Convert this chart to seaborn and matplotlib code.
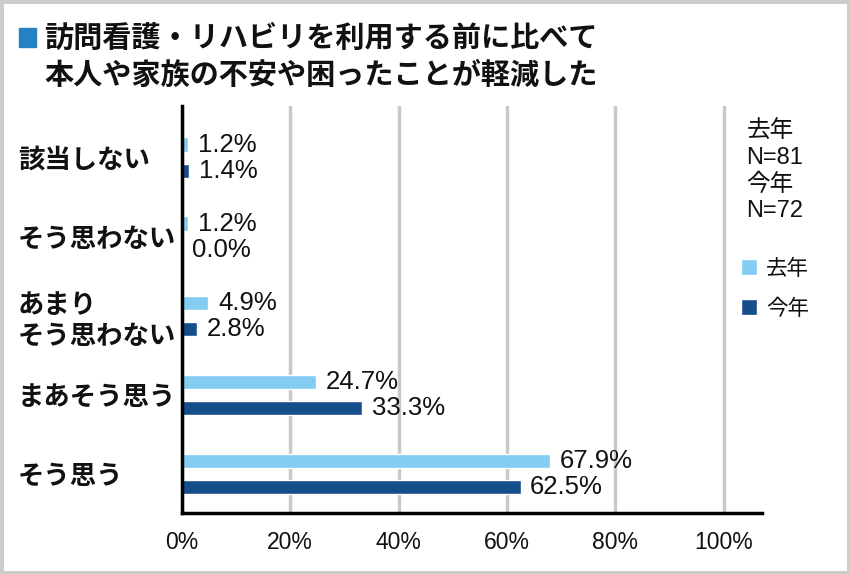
import pandas as pd
import seaborn as sns
import matplotlib.pyplot as plt

categories = ["該当しない", "そう思わない", "あまり\nそう思わない", "まあそう思う", "そう思う"]
last_year = [1.2, 1.2, 4.9, 24.7, 67.9]
this_year = [1.4, 0.0, 2.8, 33.3, 62.5]
series = ["去年", "今年"]
xticks = [0, 20, 40, 60, 80, 100]

df = pd.DataFrame({
    "cat": categories * 2,
    "val": last_year + this_year,
    "year": [series[0]] * 5 + [series[1]] * 5,
})

sns.set_style("white")
plt.rcParams["font.family"] = ["Liberation Sans", "Noto Sans CJK JP"]
plt.rcParams["text.color"] = "#111111"
jp = ["Noto Sans CJK JP", "DejaVu Sans"]

fig = plt.figure(figsize=(8.5, 5.74), dpi=100)
fig.patch.set_edgecolor("#cccccc")
fig.patch.set_linewidth(5)
ax = fig.add_axes([0.214, 0.106, 0.682, 0.709])

palette = {"去年": "#84cdf2", "今年": "#164d8b"}
sns.barplot(data=df, x="val", y="cat", hue="year", orient="h", palette=palette,
            width=0.66, gap=0.46, ax=ax, saturation=1)

for cont, vals in zip(ax.containers, [last_year, this_year]):
    ax.bar_label(cont, labels=[f"{v:.1f}%" for v in vals], padding=7, fontsize=18.5,
                 color="#111111")

ax.set_xlim(0, 107)
ax.set_ylim(4.5, -0.65)
ax.set_xticks(xticks)
ax.set_xticklabels([f"{t}%" for t in xticks], fontsize=16.5, color="#111111")
ax.tick_params(axis="x", length=0, pad=13)
ax.tick_params(axis="y", length=0, pad=118)
for lab in ax.get_yticklabels():
    lab.set_horizontalalignment("left")
    lab.set_fontsize(19)
    lab.set_fontweight("bold")
    lab.set_family(jp)
    lab.set_color("#111111")
    lab.set_linespacing(1.2)
ax.set_xlabel("")
ax.set_ylabel("")
ax.xaxis.grid(True, color="#c8c8c8", linewidth=2.5)
ax.set_axisbelow(True)
for s in ["top", "right"]:
    ax.spines[s].set_visible(False)
for s in ["left", "bottom"]:
    ax.spines[s].set_color("black")
    ax.spines[s].set_linewidth(2.5)

sns.move_legend(ax, "center left", bbox_to_anchor=(0.849, 0.497), bbox_transform=fig.transFigure,
                frameon=False, title=None, prop={"family": jp, "size": 15.5},
                handlelength=0.75, handleheight=0.75, handletextpad=0.4, labelspacing=0.85)

fig.text(0.878, 0.789, "去年\nN=81\n今年\nN=72", fontsize=17, va="top", ha="left",
         linespacing=1.25)

fig.patches.append(plt.Rectangle((0.022, 0.918), 0.02, 0.033, transform=fig.transFigure,
                                 color="#2381c4", figure=fig))
fig.text(0.052, 0.902, "訪問看護・リハビリを利用する前に比べて\n本人や家族の不安や困ったことが軽減した",
         fontsize=21, fontweight="bold", va="center", ha="left", linespacing=1.28,
         family=jp)

fig.savefig("out.png", dpi=100, edgecolor=fig.get_edgecolor())
